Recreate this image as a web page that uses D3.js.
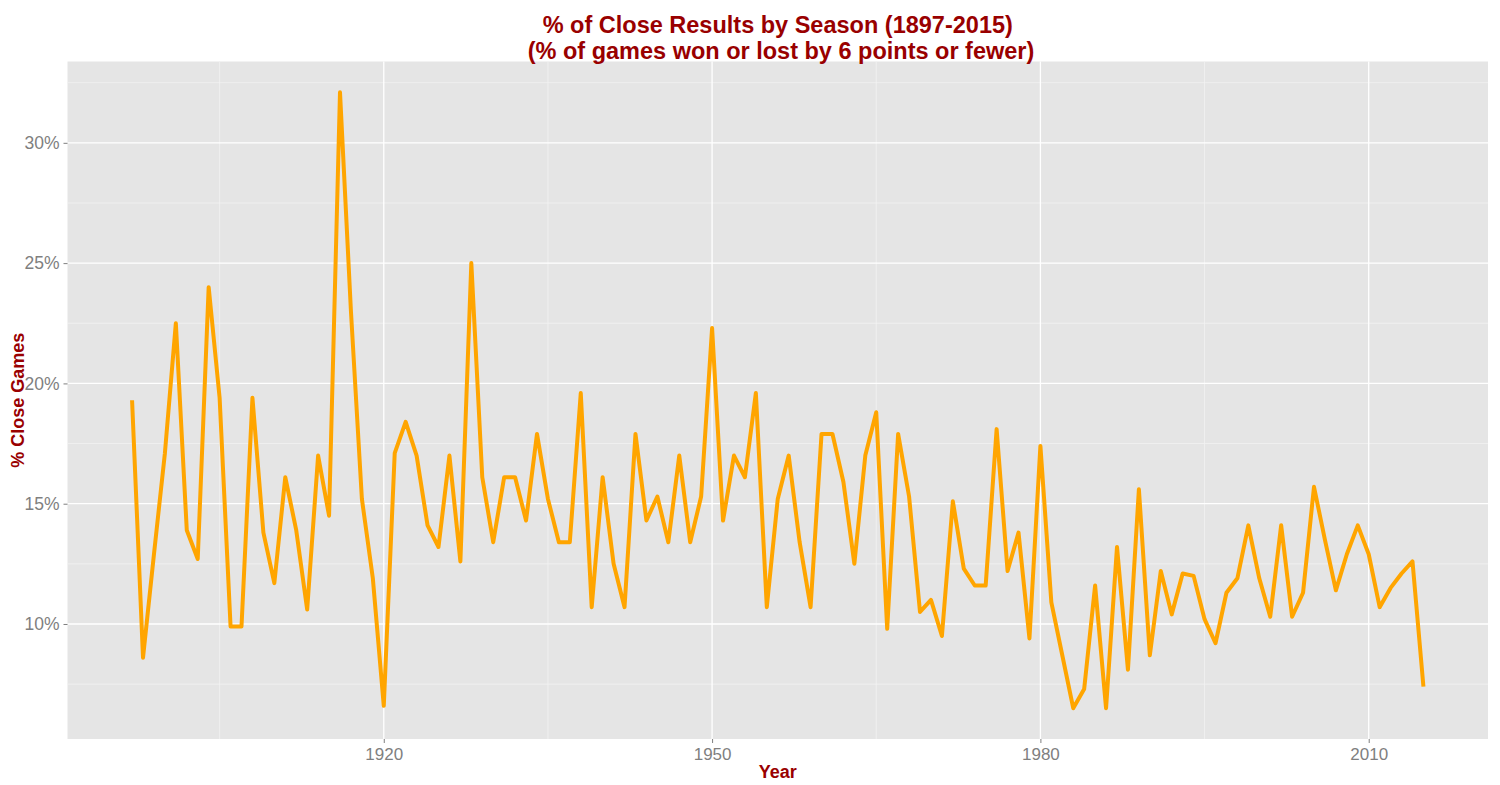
<!DOCTYPE html>
<html>
<head>
<meta charset="utf-8">
<script src="https://cdn.jsdelivr.net/npm/d3@7"></script>
<style>
  html, body { margin: 0; padding: 0; background: #ffffff; }
  svg { display: block; font-family: "Liberation Sans", Arial, sans-serif; }
</style>
</head>
<body>
<svg id="chart" width="1500" height="785"></svg>
<script>
const years = [1897,1898,1899,1900,1901,1902,1903,1904,1905,1906,1907,1908,1909,1910,1911,1912,1913,1914,1915,1916,1917,1918,1919,
  1920,1921,1922,1923,1924,1925,1926,1927,1928,1929,1930,1931,1932,1933,1934,1935,1936,1937,1938,1939,
  1940,1941,1942,1943,1944,1945,1946,1947,1948,1949,1950,1951,1952,1953,1954,1955,1956,1957,1958,1959,
  1960,1961,1962,1963,1964,1965,1966,1967,1968,1969,1970,1971,1972,1973,1974,1975,1976,1977,1978,1979,
  1980,1981,1982,1983,1984,1985,1986,1987,1988,1989,1990,1991,1992,1993,1994,1995,1996,1997,1998,1999,
  2000,2001,2002,2003,2004,2005,2006,2007,2008,2009,2010,2011,2012,2013,2014,2015];

const closePct = [19.3,8.6,12.9,17.1,22.5,13.9,12.7,24.0,19.4,9.9,9.9,19.4,13.8,11.7,16.1,13.9,10.6,17.0,14.5,32.1,23.0,15.2,11.9,
  6.6,17.1,18.4,17.0,14.1,13.2,17.0,12.6,25.0,16.1,13.4,16.1,16.1,14.3,17.9,15.2,13.4,13.4,19.6,10.7,
  16.1,12.5,10.7,17.9,14.3,15.3,13.4,17.0,13.4,15.3,22.3,14.3,17.0,16.1,19.6,10.7,15.2,17.0,13.4,10.7,
  17.9,17.9,15.9,12.5,17.0,18.8,9.8,17.9,15.3,10.5,11.0,9.5,15.1,12.3,11.6,11.6,18.1,12.2,13.8,9.4,
  17.4,10.9,8.7,6.5,7.3,11.6,6.5,13.2,8.1,15.6,8.7,12.2,10.4,12.1,12.0,10.2,9.2,11.3,11.9,14.1,
  11.9,10.3,14.1,10.3,11.3,15.7,13.5,11.4,12.9,14.1,12.9,10.7,11.5,12.1,12.6,7.4];

const xMajorTicks = [1920, 1950, 1980, 2010];
const xMinorTicks = [1905, 1935, 1965, 1995];
const yMajorTicks = [10, 15, 20, 25, 30];
const yMinorTicks = [7.5, 12.5, 17.5, 22.5, 27.5, 32.5];

const titleLines = ["% of Close Results by Season (1897-2015)", " (% of games won or lost by 6 points or fewer)"];
const xTitle = "Year";
const yTitle = "% Close Games";

const data = years.map((y, i) => ({ year: y, v: closePct[i] }));

const svg = d3.select("#chart");
const panel = { left: 67.5, right: 1488, top: 61.5, bottom: 739 };

function expand(ext) {
  const pad = (ext[1] - ext[0]) * 0.05;
  return [ext[0] - pad, ext[1] + pad];
}

const x = d3.scaleLinear().domain(expand(d3.extent(years))).range([panel.left, panel.right]);
const y = d3.scaleLinear().domain(expand(d3.extent(closePct))).range([panel.bottom, panel.top]);

const darkRed = "#990000";
const tickGrey = "#7f7f7f";

// panel background
svg.append("rect")
  .attr("x", panel.left).attr("y", panel.top)
  .attr("width", panel.right - panel.left).attr("height", panel.bottom - panel.top)
  .attr("fill", "#e5e5e5");

const grid = svg.append("g");
// minor gridlines
grid.selectAll("line.ymin").data(yMinorTicks.filter(t => y(t) >= panel.top && y(t) <= panel.bottom)).enter().append("line")
  .attr("x1", panel.left).attr("x2", panel.right)
  .attr("y1", d => y(d)).attr("y2", d => y(d))
  .attr("stroke", "#f2f2f2").attr("stroke-width", 0.8);
grid.selectAll("line.xmin").data(xMinorTicks).enter().append("line")
  .attr("y1", panel.top).attr("y2", panel.bottom)
  .attr("x1", d => x(d)).attr("x2", d => x(d))
  .attr("stroke", "#f2f2f2").attr("stroke-width", 0.8);
// major gridlines
grid.selectAll("line.ymaj").data(yMajorTicks).enter().append("line")
  .attr("x1", panel.left).attr("x2", panel.right)
  .attr("y1", d => y(d)).attr("y2", d => y(d))
  .attr("stroke", "#ffffff").attr("stroke-width", 1.3);
grid.selectAll("line.xmaj").data(xMajorTicks).enter().append("line")
  .attr("y1", panel.top).attr("y2", panel.bottom)
  .attr("x1", d => x(d)).attr("x2", d => x(d))
  .attr("stroke", "#ffffff").attr("stroke-width", 1.3);

// axes
const xAxis = d3.axisBottom(x).tickValues(xMajorTicks).tickFormat(d3.format("d")).tickSize(4).tickPadding(5);
const yAxis = d3.axisLeft(y).tickValues(yMajorTicks).tickFormat(d => d + "%").tickSize(4).tickPadding(4);

const gx = svg.append("g").attr("transform", `translate(0,${panel.bottom})`).call(xAxis);
const gy = svg.append("g").attr("transform", `translate(${panel.left},0)`).call(yAxis);
[gx, gy].forEach(g => {
  g.select(".domain").remove();
  g.selectAll(".tick line").attr("stroke", tickGrey).attr("stroke-width", 1);
  g.selectAll(".tick text").attr("fill", tickGrey)
    .attr("font-family", "'Liberation Sans', Arial, sans-serif");
});
gx.selectAll(".tick text").attr("font-size", "17px");
gy.selectAll(".tick text").attr("font-size", "17.5px");

// line
const line = d3.line().x(d => x(d.year)).y(d => y(d.v));
svg.append("path").datum(data)
  .attr("d", line)
  .attr("fill", "none")
  .attr("stroke", "#ffa500")
  .attr("stroke-width", 4)
  .attr("stroke-linejoin", "round");

// titles
const cx = (panel.left + panel.right) / 2;
svg.append("text").attr("x", cx).attr("y", 33).attr("text-anchor", "middle")
  .attr("font-size", "23.5px").attr("font-weight", "bold").attr("fill", darkRed)
  .text(titleLines[0]);
svg.append("text").attr("x", cx).attr("y", 59).attr("text-anchor", "middle")
  .attr("font-size", "23.5px").attr("font-weight", "bold").attr("fill", darkRed)
  .attr("xml:space", "preserve").style("white-space", "pre")
  .text(titleLines[1]);

svg.append("text").attr("x", cx).attr("y", 778).attr("text-anchor", "middle")
  .attr("font-size", "18px").attr("font-weight", "bold").attr("fill", darkRed)
  .text(xTitle);

svg.append("text")
  .attr("transform", `translate(24,${(panel.top + panel.bottom) / 2}) rotate(-90)`)
  .attr("text-anchor", "middle")
  .attr("font-size", "18px").attr("font-weight", "bold").attr("fill", darkRed)
  .text(yTitle);
</script>
</body>
</html>
